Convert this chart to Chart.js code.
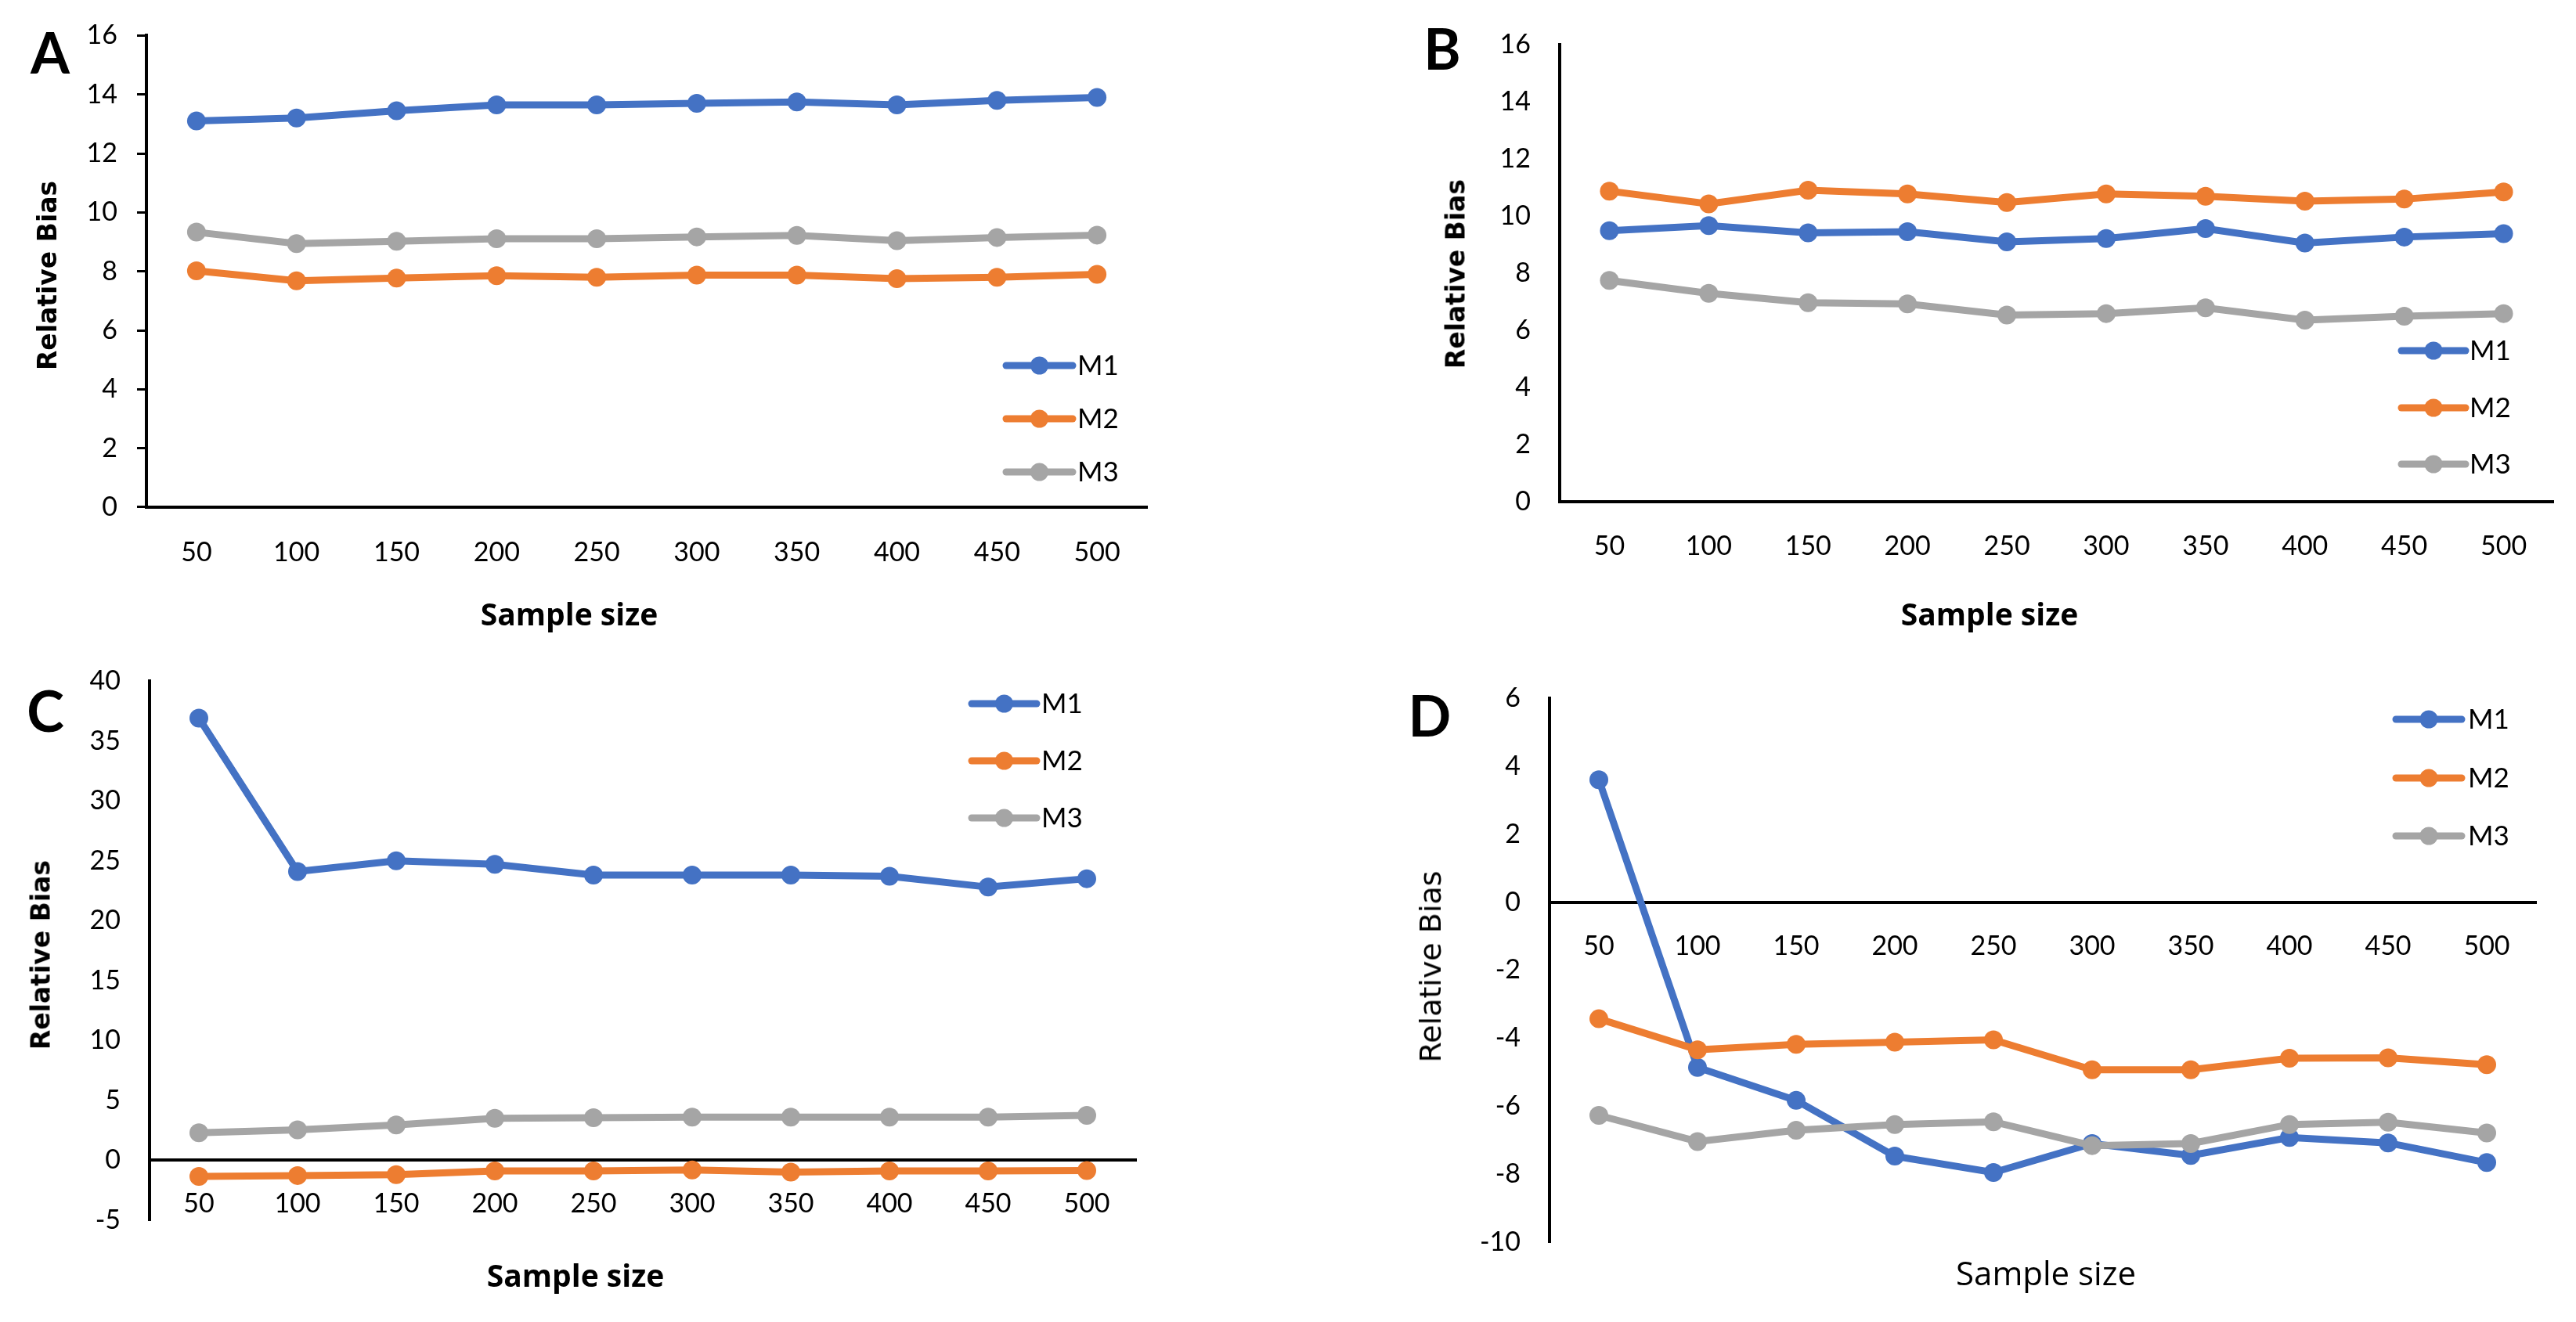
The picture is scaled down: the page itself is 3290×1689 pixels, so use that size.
<!DOCTYPE html>
<html><head><meta charset="utf-8">
<script src="https://cdn.jsdelivr.net/npm/chart.js@4.4.1/dist/chart.umd.min.js"></script>
<style>
html,body{margin:0;padding:0;background:#fff;width:3290px;height:1689px;overflow:hidden;}
canvas{position:absolute;left:0;top:0;}
.t{position:absolute;color:#000;white-space:nowrap;line-height:1;transform:translate(-50%,-50%);}
.r{transform:translate(-50%,-50%) rotate(-90deg);}
.letter{font-family:Lato,sans-serif;font-weight:bold;font-size:72px;}
.xt{font-family:"Open Sans",sans-serif;}
.yt{font-family:"DejaVu Sans",sans-serif;}
</style></head><body>
<canvas id="cA" width="3290" height="1689"></canvas>
<canvas id="cB" width="3290" height="1689"></canvas>
<canvas id="cC" width="3290" height="1689"></canvas>
<canvas id="cD" width="3290" height="1689"></canvas>

<div class="t letter" style="left:64px;top:66px;">A</div>
<div class="t letter" style="left:1842px;top:61px;">B</div>
<div class="t letter" style="left:58px;top:907px;">C</div>
<div class="t letter" style="left:1826px;top:913px;">D</div>

<div class="t r yt" style="left:60px;top:352px;font-size:33px;font-weight:bold;">Relative Bias</div>
<div class="t r yt" style="left:1859px;top:350px;font-size:33px;font-weight:bold;">Relative Bias</div>
<div class="t r yt" style="left:52px;top:1220px;font-size:33px;font-weight:bold;">Relative Bias</div>
<div class="t r yt" style="left:1827px;top:1235px;font-size:38px;">Relative Bias</div>

<div class="t xt" style="left:727px;top:783px;font-size:39px;font-weight:bold;">Sample size</div>
<div class="t xt" style="left:2541px;top:783px;font-size:39px;font-weight:bold;">Sample size</div>
<div class="t xt" style="left:735px;top:1628px;font-size:39px;font-weight:bold;">Sample size</div>
<div class="t xt" style="left:2613px;top:1626px;font-size:42px;">Sample size</div>

<script>
// ---- data ----
const sampleSizes = ['50','100','150','200','250','300','350','400','450','500'];
const seriesNames = ['M1','M2','M3'];
const seriesColors = ['#4472C4','#ED7D31','#A5A5A5'];

const A_M1 = [13.1, 13.2, 13.45, 13.65, 13.65, 13.7, 13.75, 13.65, 13.8, 13.9];
const A_M2 = [8.02, 7.68, 7.77, 7.85, 7.8, 7.87, 7.87, 7.75, 7.8, 7.9];
const A_M3 = [9.33, 8.94, 9.02, 9.11, 9.11, 9.17, 9.22, 9.04, 9.15, 9.23];

const B_M1 = [9.49, 9.67, 9.42, 9.46, 9.1, 9.22, 9.57, 9.06, 9.27, 9.39];
const B_M2 = [10.88, 10.43, 10.91, 10.78, 10.48, 10.78, 10.7, 10.53, 10.6, 10.85];
const B_M3 = [7.75, 7.3, 6.97, 6.93, 6.54, 6.59, 6.79, 6.36, 6.5, 6.59];

const C_M1 = [36.9, 24.1, 25.0, 24.7, 23.8, 23.8, 23.8, 23.7, 22.8, 23.5];
const C_M2 = [-1.34, -1.27, -1.2, -0.88, -0.88, -0.81, -0.99, -0.88, -0.88, -0.85];
const C_M3 = [2.3, 2.55, 2.95, 3.5, 3.55, 3.6, 3.6, 3.6, 3.6, 3.75];

const D_M1 = [3.6, -4.86, -5.83, -7.47, -7.95, -7.1, -7.45, -6.92, -7.08, -7.66];
const D_M2 = [-3.43, -4.34, -4.18, -4.12, -4.05, -4.93, -4.93, -4.59, -4.58, -4.78];
const D_M3 = [-6.27, -7.04, -6.71, -6.54, -6.46, -7.16, -7.1, -6.54, -6.47, -6.79];

// ---- rendering ----
const PAGE_W = 3290, PAGE_H = 1689, YAXIS_W = 120;

const legendPlugin = {
  id: 'customLegend',
  afterDatasetsDraw(chart, args, opts) {
    const ctx = chart.ctx;
    ctx.save();
    chart.data.datasets.forEach((ds, i) => {
      const y = opts.rows[i];
      ctx.strokeStyle = ds.borderColor;
      ctx.lineWidth = 9;
      ctx.lineCap = 'round';
      ctx.beginPath();
      ctx.moveTo(opts.x1, y);
      ctx.lineTo(opts.x2, y);
      ctx.stroke();
      ctx.fillStyle = ds.borderColor;
      ctx.beginPath();
      ctx.arc((opts.x1 + opts.x2) / 2, y, 11.5, 0, Math.PI * 2);
      ctx.fill();
      ctx.fillStyle = '#000';
      ctx.font = '35px Lato, sans-serif';
      ctx.textBaseline = 'middle';
      ctx.textAlign = 'left';
      ctx.fillText(ds.label, opts.textX, y + 1);
    });
    ctx.restore();
  }
};

function makePanel(id, vals, yMin, yMax, step, area, yTicks, xPad, legend) {
  const datasets = vals.map((v, i) => ({
    label: seriesNames[i],
    data: v,
    borderColor: seriesColors[i],
    backgroundColor: seriesColors[i],
    pointBackgroundColor: seriesColors[i],
    pointBorderWidth: 0,
    pointRadius: 12,
    borderWidth: 9,
    tension: 0,
    order: 2 - i
  }));
  new Chart(document.getElementById(id), {
    type: 'line',
    data: { labels: sampleSizes, datasets },
    plugins: [legendPlugin],
    options: {
      responsive: false,
      animation: false,
      devicePixelRatio: 1,
      layout: { padding: { left: area.L - YAXIS_W, top: area.T, right: PAGE_W - area.R, bottom: PAGE_H - area.B } },
      plugins: { legend: { display: false }, tooltip: { enabled: false }, customLegend: legend },
      scales: {
        x: {
          type: 'category',
          offset: true,
          position: { y: 0 },
          grid: { display: true, drawOnChartArea: false, drawTicks: false, color: 'transparent' },
          border: { display: true, color: '#000', width: 4 },
          ticks: { color: '#000', font: { family: 'Lato, sans-serif', size: 34 }, padding: xPad, maxRotation: 0, autoSkip: false }
        },
        y: {
          min: yMin, max: yMax,
          afterFit(scale) { scale.width = YAXIS_W; },
          grid: { display: true, drawOnChartArea: false, drawTicks: yTicks, tickLength: 12, tickWidth: 3, tickColor: '#000', color: '#000' },
          border: { display: true, color: '#000', width: 4 },
          ticks: { stepSize: step, color: '#000', font: { family: 'Lato, sans-serif', size: 34 }, padding: yTicks ? 25 : 37 }
        }
      }
    }
  });
}

makePanel('cA', [A_M1, A_M2, A_M3], 0, 16, 2, {L:187, R:1465, T:35, B:648}, true, 38,
  {x1:1285, x2:1370, textX:1376, rows:[467, 535, 603]});
makePanel('cB', [B_M1, B_M2, B_M3], 0, 16, 2, {L:1992, R:3261, T:40, B:641}, false, 37,
  {x1:3067, x2:3149, textX:3154, rows:[448, 521, 593]});
makePanel('cC', [C_M1, C_M2, C_M3], -5, 40, 5, {L:191, R:1451, T:870, B:1559}, false, 35,
  {x1:1241, x2:1324, textX:1330, rows:[899, 972, 1045]});
makePanel('cD', [D_M1, D_M2, D_M3], -10, 6, 2, {L:1979, R:3239, T:892, B:1587}, false, 36,
  {x1:3060, x2:3144, textX:3152, rows:[919, 994, 1068]});
</script>
</body></html>
